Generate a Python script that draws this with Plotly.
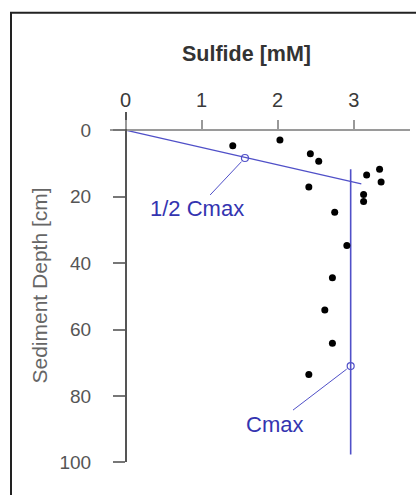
import plotly.graph_objects as go

# ---- data ----
sulfide = [1.41, 2.03, 2.43, 2.54, 3.17, 3.34, 3.36, 2.41, 3.13, 3.13, 2.75, 2.91, 2.72, 2.62, 2.72, 2.41]
depth = [4.7, 3.0, 7.1, 9.4, 13.5, 11.8, 15.6, 17.1, 19.4, 21.5, 24.7, 34.7, 44.4, 54.1, 64.1, 73.5]

slope_x = [0.0, 3.1]
slope_y = [0.0, 16.2]
cmax_x = [2.96, 2.96]
cmax_y = [11.8, 97.6]
half_pt_x, half_pt_y = 1.57, 8.4
cmax_pt_x, cmax_pt_y = 2.96, 71.0

x_ticks = [0, 1, 2, 3]
y_ticks = [0, 20, 40, 60, 80, 100]

W, H = 416, 495
BLUE = "#5050c8"
BLUE_TXT = "#3434b0"
FONT = "Liberation Sans, Arial, sans-serif"


def px_x(p):
    return p / W


def px_y(p):
    return 1 - p / H


fig = go.Figure()

fig.add_trace(go.Scatter(x=slope_x, y=slope_y, mode="lines",
                         line=dict(color=BLUE, width=1.2), hoverinfo="skip"))
fig.add_trace(go.Scatter(x=cmax_x, y=cmax_y, mode="lines",
                         line=dict(color=BLUE, width=1.6), hoverinfo="skip"))
fig.add_trace(go.Scatter(x=sulfide, y=depth, mode="markers",
                         marker=dict(color="black", size=7)))
fig.add_trace(go.Scatter(x=[half_pt_x, cmax_pt_x], y=[half_pt_y, cmax_pt_y], mode="markers",
                         marker=dict(symbol="circle-open", color=BLUE, size=7,
                                     line=dict(width=1.2))))

fig.update_layout(
    width=W, height=H,
    margin=dict(l=0, r=0, t=0, b=0),
    paper_bgcolor="white", plot_bgcolor="white",
    showlegend=False,
    font=dict(family=FONT),
    xaxis=dict(
        domain=[px_x(110), px_x(410)],
        range=[-0.204, 3.74],
        side="top", anchor="free", position=px_y(133),
        tickvals=x_ticks, ticks="outside", ticklen=9, tickwidth=1.5, tickcolor="#999",
        showline=True, linecolor="#9a9a9a", linewidth=2,
        showgrid=False, zeroline=False,
        tickfont=dict(size=20, color="#3a3a3a"),
        ticklabelstandoff=5,
    ),
    yaxis=dict(
        domain=[px_y(473), px_y(115)],
        range=[100, -5.3],
        anchor="free", position=px_x(126),
        tickvals=y_ticks, ticks="outside", ticklen=12, tickwidth=1.5, tickcolor="#777",
        showline=True, linecolor="#555", linewidth=2,
        showgrid=False, zeroline=False,
        tickfont=dict(size=19, color="#555"),
        ticklabelstandoff=18,
    ),
    shapes=[
        dict(type="rect", xref="paper", yref="paper",
             x0=px_x(11), x1=1.2, y0=-0.2, y1=px_y(13),
             line=dict(color="#222", width=2), fillcolor="rgba(0,0,0,0)", layer="below"),
    ],
    annotations=[
        dict(text="Sulfide [mM]", xref="paper", yref="paper", x=px_x(246), y=px_y(55),
             showarrow=False, xanchor="center", yanchor="middle",
             font=dict(size=21.5, color="#333", family=FONT, weight="bold")),
        dict(text="Sediment Depth [cm]", xref="paper", yref="paper", x=px_x(40), y=px_y(292),
             showarrow=False, textangle=-90, xanchor="center", yanchor="middle",
             font=dict(size=21, color="#666", family=FONT)),
        dict(text="1/2 Cmax", x=half_pt_x, y=half_pt_y, xref="x", yref="y",
             showarrow=True, arrowhead=0, arrowwidth=1, arrowcolor=BLUE,
             ax=-48, ay=51, standoff=5,
             font=dict(size=22, color=BLUE_TXT, family=FONT)),
        dict(text="Cmax", x=cmax_pt_x, y=cmax_pt_y, xref="x", yref="y",
             showarrow=True, arrowhead=0, arrowwidth=1, arrowcolor=BLUE,
             ax=-76, ay=58, standoff=5,
             font=dict(size=22, color=BLUE_TXT, family=FONT)),
    ],
)

fig.write_html("out.html")
